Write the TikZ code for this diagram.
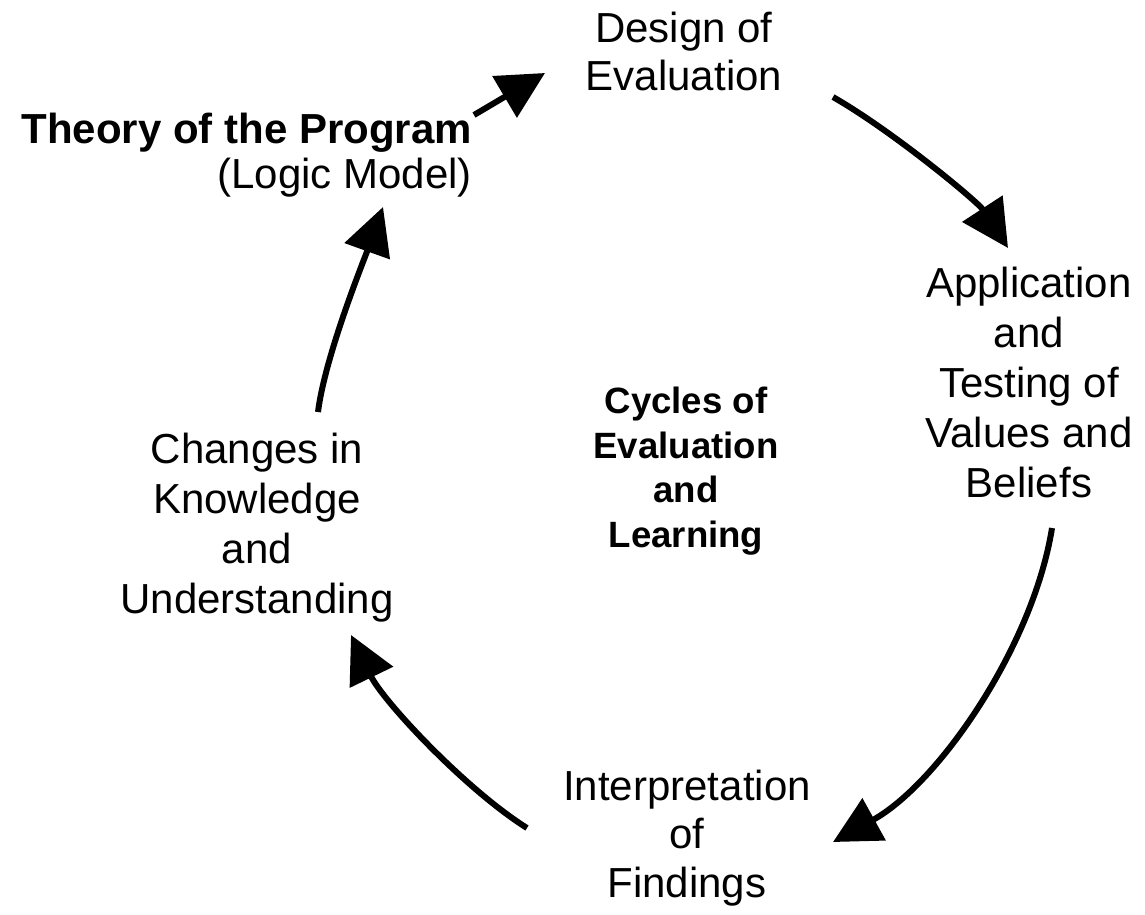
\documentclass[tikz,border=0pt]{standalone}
\usepackage{fontspec}
\setmainfont{Liberation Sans}
\usetikzlibrary{arrows.meta}
\begin{document}
\begin{tikzpicture}[x=1pt,y=-1pt,
  stage/.style={inner sep=0pt, anchor=base, align=center},
  cycarrow/.style={line width=6pt, -{Triangle[length=47pt,width=47pt]}},
]
\useasboundingbox (0,0) rectangle (1145,914);

% stages of the cycle (anchored at the baseline of their last line)
\node[stage, font=\fontsize{42}{48}\selectfont] (design) at (684,90) {Design of\\Evaluation};
\node[stage, anchor=base east, align=right, font=\fontsize{42}{45}\selectfont] (theory) at (472,188)
  {\textbf{Theory of the Program}\\(Logic Model)};
\node[stage, font=\fontsize{42}{50}\selectfont] (apply) at (1029,497)
  {Application\\and\\Testing of\\Values and\\Beliefs};
\node[stage, font=\fontsize{42}{48.5}\selectfont] (interp) at (687,897)
  {Interpretation\\of\\Findings};
\node[stage, font=\fontsize{42}{50}\selectfont] (changes) at (257,613)
  {Changes in\\Knowledge\\and\\Understanding};
\node[stage, font=\fontsize{36.6}{44.5}\selectfont\bfseries] (cycle) at (686,547)
  {Cycles of\\Evaluation\\and\\Learning};

% arrow ends
\coordinate (t1) at (474,115);  \coordinate (h1) at (545,73);
\coordinate (t2) at (833,97);   \coordinate (h2) at (1008,248);
\coordinate (t3) at (1052,528); \coordinate (h3) at (833,842);
\coordinate (t4) at (527,828);  \coordinate (h4) at (351,635);
\coordinate (t5) at (318,412);  \coordinate (h5) at (383,207);

% the cycle of arrows
\draw[cycarrow] (t1) -- (h1);
\draw[cycarrow] (t2) .. controls (894,132) and (978,202) .. (h2);
\draw[cycarrow] (t3) .. controls (1033,647) and (938,784) .. (h3);
\draw[cycarrow] (t4) .. controls (465,789) and (383,701) .. (h4);
\draw[cycarrow] (t5) .. controls (325,356) and (364,260) .. (h5);
\end{tikzpicture}
\end{document}
